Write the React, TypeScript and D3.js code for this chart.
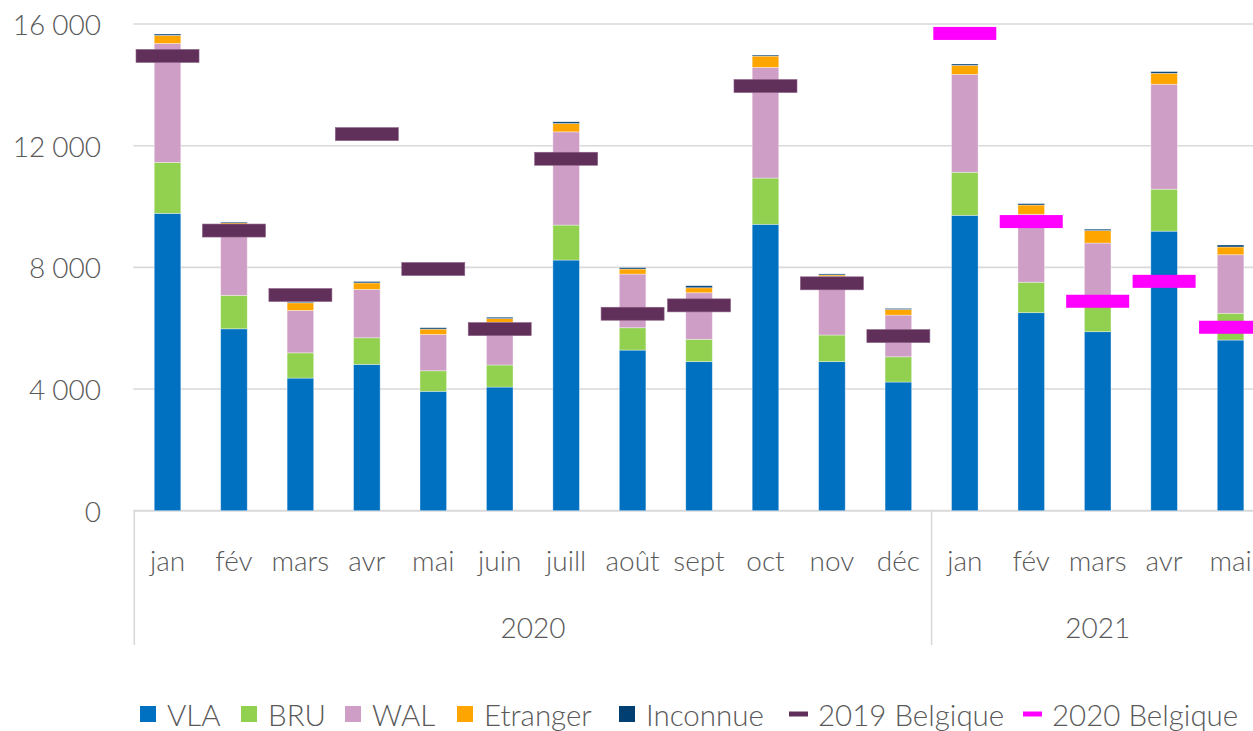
import React from "react";
import * as d3 from "d3";

// Monthly counts per region, stacked, with previous-year totals as markers
const months = ["jan", "fév", "mars", "avr", "mai", "juin", "juill", "août", "sept", "oct", "nov", "déc", "jan", "fév", "mars", "avr", "mai"];
const yearGroups = [
  { label: "2020", count: 12 },
  { label: "2021", count: 5 },
];

const VLA = [9775, 5980, 4360, 4810, 3925, 4065, 8240, 5280, 4900, 9415, 4900, 4230, 9710, 6510, 5885, 9190, 5610];
const BRU = [1675, 1100, 830, 875, 675, 725, 1150, 735, 735, 1520, 875, 830, 1415, 1000, 1000, 1380, 880];
const WAL = [3910, 2330, 1395, 1590, 1195, 1405, 3065, 1765, 1530, 3640, 1930, 1370, 3220, 2235, 1915, 3450, 1925];
const ETRANGER = [265, 50, 250, 215, 175, 120, 275, 165, 165, 370, 45, 185, 295, 305, 410, 360, 255];
const INCONNUE = [45, 30, 25, 45, 45, 45, 55, 45, 65, 35, 35, 35, 45, 45, 45, 55, 65];

const BELGIQUE_2019: (number | null)[] = [14950, 9210, 7090, 12380, 7945, 5970, 11570, 6475, 6750, 13960, 7475, 5740, null, null, null, null, null];
const BELGIQUE_2020: (number | null)[] = [null, null, null, null, null, null, null, null, null, null, null, null, 15690, 9505, 6885, 7540, 6030];

const yTicks = [0, 4000, 8000, 12000, 16000];

const stackSeries = [
  { key: "VLA", values: VLA, color: "#0070C0" },
  { key: "BRU", values: BRU, color: "#92D050" },
  { key: "WAL", values: WAL, color: "#CF9EC6" },
  { key: "Etranger", values: ETRANGER, color: "#FFA500" },
  { key: "Inconnue", values: INCONNUE, color: "#003F72" },
];

const markerSeries = [
  { key: "2019 Belgique", values: BELGIQUE_2019, color: "#60305A" },
  { key: "2020 Belgique", values: BELGIQUE_2020, color: "#FF00FF" },
];

const W = 1253;
const H = 731;
const FONT = "Lato, 'Open Sans', sans-serif";
const TEXT = "#595959";
const GRID = "#d9d9d9";

const fmt = d3.formatLocale({ decimal: ",", thousands: "\u202f", grouping: [3], currency: ["", ""] }).format(",");

export default function App() {
  const left = 134.3;
  const step = 66.44;
  const x = d3
    .scaleBand<number>()
    .domain(d3.range(months.length))
    .range([left, left + step * months.length])
    .paddingInner(0.6)
    .paddingOuter(0.3);
  const y = d3.scaleLinear().domain([0, 16000]).range([510.7, 24]);

  const rows = months.map((_, i) => {
    const r: Record<string, number> = { i };
    stackSeries.forEach((s) => (r[s.key] = s.values[i]));
    return r;
  });
  const stacked = d3.stack<Record<string, number>>().keys(stackSeries.map((s) => s.key))(rows);

  const bw = x.bandwidth();
  const markerW = 63;
  const markerH = 13;
  const axisY = y(0);
  const groupBottom = 645;

  // year group boundaries
  let acc = 0;
  const groups = yearGroups.map((g) => {
    const start = acc;
    acc += g.count;
    return { ...g, start, end: acc };
  });
  const bandStart = (i: number) => left + step * i;

  const legendItems = [
    { label: "VLA", color: "#0070C0", type: "box", x: 140 },
    { label: "BRU", color: "#92D050", type: "box", x: 241 },
    { label: "WAL", color: "#CF9EC6", type: "box", x: 345 },
    { label: "Etranger", color: "#FFA500", type: "box", x: 457 },
    { label: "Inconnue", color: "#003F72", type: "box", x: 619 },
    { label: "2019 Belgique", color: "#60305A", type: "line", x: 789 },
    { label: "2020 Belgique", color: "#FF00FF", type: "line", x: 1023 },
  ];
  const legendY = 714;

  return (
    <svg
      width={W}
      height={H}
      style={{ position: "absolute", left: 0, top: 0, background: "#fff" }}
      fontFamily={FONT}
    >
      {/* horizontal gridlines */}
      {yTicks.map((t) => (
        <line key={"g" + t} x1={left - 1} x2={W} y1={y(t)} y2={y(t)} stroke={GRID} strokeWidth={t === 0 ? 2 : 1.6} />
      ))}
      {/* y tick labels */}
      {yTicks.map((t) => (
        <text
          key={"t" + t}
          x={101}
          y={y(t)}
          textAnchor="end"
          dominantBaseline="central"
          fontSize={28}
          fontWeight={300}
          fill={TEXT}
        >
          {fmt(t)}
        </text>
      ))}

      {/* stacked bars */}
      {stacked.map((layer, li) => (
        <g key={layer.key} fill={stackSeries[li].color}>
          {layer.map((d, i) => (
            <rect
              key={i}
              x={x(i)}
              width={bw}
              y={y(d[1])}
              height={Math.max(0, y(d[0]) - y(d[1]))}
              stroke="#ffffff"
              strokeOpacity={0.45}
              strokeWidth={0.8}
            />
          ))}
        </g>
      ))}

      {/* previous-year totals as horizontal markers */}
      {markerSeries.map((s) => (
        <g key={s.key}>
          {s.values.map((v, i) =>
            v == null ? null : (
              <rect
                key={i}
                x={(x(i) as number) + bw / 2 - markerW / 2}
                y={y(v) - markerH / 2}
                width={markerW}
                height={markerH}
                fill={s.color}
                stroke={s.key === "2019 Belgique" ? "#8a6085" : "none"}
                strokeWidth={0.6}
              />
            )
          )}
        </g>
      ))}

      {/* category axis: group separators */}
      {[0, ...groups.map((g) => g.end)].map((b, k) =>
        b < months.length || k === 0 ? (
          <line
            key={"sep" + k}
            x1={bandStart(b)}
            x2={bandStart(b)}
            y1={axisY}
            y2={groupBottom}
            stroke={GRID}
            strokeWidth={1.6}
          />
        ) : null
      )}

      {/* month labels */}
      {months.map((m, i) => (
        <text
          key={"m" + i}
          x={(x(i) as number) + bw / 2}
          y={560}
          textAnchor="middle"
          dominantBaseline="central"
          fontSize={28}
          fontWeight={300}
          fill={TEXT}
        >
          {m}
        </text>
      ))}

      {/* year labels */}
      {groups.map((g) => (
        <text
          key={g.label}
          x={(bandStart(g.start) + bandStart(g.end)) / 2}
          y={627}
          textAnchor="middle"
          dominantBaseline="central"
          fontSize={28}
          fontWeight={300}
          fill={TEXT}
        >
          {g.label}
        </text>
      ))}

      {/* legend */}
      {legendItems.map((it) => (
        <g key={it.label}>
          {it.type === "box" ? (
            <rect x={it.x} y={legendY - 8} width={16} height={16} fill={it.color} />
          ) : (
            <rect x={it.x} y={legendY - 2.5} width={19} height={5} fill={it.color} />
          )}
          <text
            x={it.x + (it.type === "box" ? 27 : 29)}
            y={legendY}
            dominantBaseline="central"
            fontSize={29.5}
            fontWeight={300}
            fill={TEXT}
          >
            {it.label}
          </text>
        </g>
      ))}
    </svg>
  );
}
